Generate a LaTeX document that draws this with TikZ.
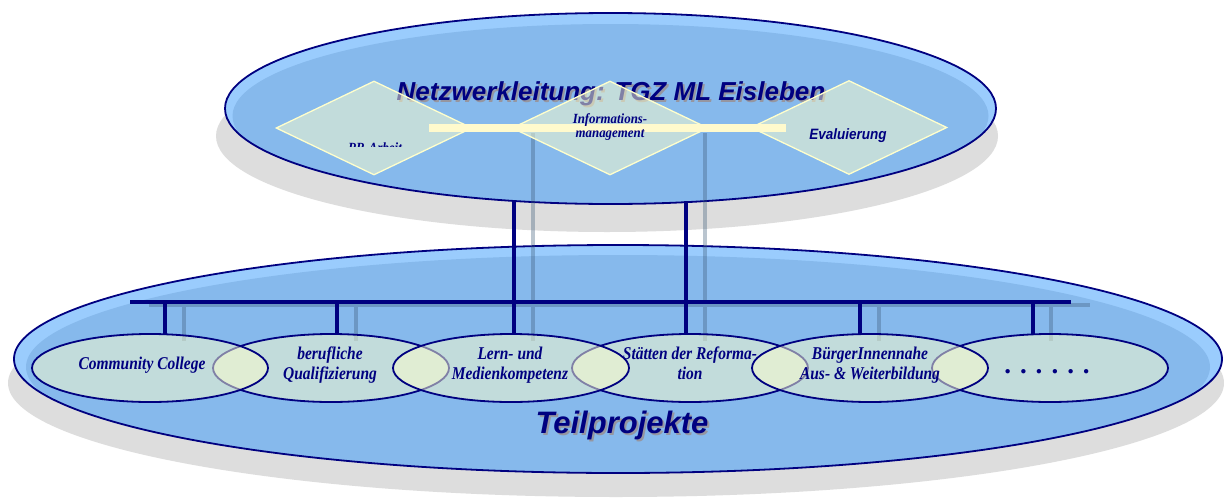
\documentclass[tikz,border=0pt]{standalone}
\usepackage{fontspec}
\setmainfont{Liberation Serif}
\setsansfont{Liberation Sans}
\newfontfamily\condserif[FakeStretch=0.86]{Liberation Serif}
\newfontfamily\condserifb[FakeStretch=0.92]{Liberation Serif}
\newfontfamily\condsans[FakeStretch=0.9]{Liberation Sans}
\usetikzlibrary{shapes.geometric}
\definecolor{navy}{RGB}{0,0,128}
\definecolor{mainblue}{RGB}{134,185,236}
\definecolor{rimblue}{RGB}{154,204,253}
\definecolor{shadowgray}{RGB}{221,221,221}
\definecolor{paleyellow}{RGB}{255,255,204}
\definecolor{baryellow}{RGB}{255,250,205}
\definecolor{lineshadow}{RGB}{60,90,120}
\definecolor{textshadow}{RGB}{150,150,160}
\begin{document}
\begin{tikzpicture}[x=1pt,y=-1pt,
  subproj/.style={ellipse, draw=navy, line width=1.8pt, fill=paleyellow, fill opacity=0.5,
    text opacity=1, minimum width=236pt, minimum height=68pt, inner sep=0pt},
  sublabel/.style={font=\condserif\bfseries\itshape\fontsize{18}{20}\selectfont, text=navy,
    align=center, inner sep=0pt, anchor=base},
  task/.style={diamond, draw=paleyellow, line width=1.3pt, fill=paleyellow, fill opacity=0.5,
    minimum width=196pt, minimum height=94pt, inner sep=0pt},
  navyline/.style={draw=navy, line width=4pt},
  shadowline/.style={draw=lineshadow, draw opacity=0.35, line width=4pt},
  bigtitle/.style={font=\sffamily\bfseries\itshape\fontsize{26}{30}\selectfont, inner sep=0pt, anchor=base},
]
\useasboundingbox (0,0) rectangle (1224,501);
\fill[white] (0,0) rectangle (1224,501);

% ---------- bottom ellipse (Teilprojekte) ----------
\fill[shadowgray] (616,383) ellipse [x radius=608pt, y radius=114pt];
\node[ellipse, minimum width=1208pt, minimum height=228pt, inner sep=0pt, fill=rimblue] (bottom) at (618,359) {};
\begin{scope}
  \clip (618,359) ellipse [x radius=604pt, y radius=114pt];
  \fill[mainblue] (618,367) ellipse [x radius=592pt, y radius=112pt];
\end{scope}
\draw[navy, line width=1.8pt] (618,359) ellipse [x radius=604pt, y radius=114pt];

% ---------- top ellipse (Netzwerkleitung) ----------
\fill[shadowgray] (607,136) ellipse [x radius=391pt, y radius=96pt];
\node[ellipse, minimum width=771pt, minimum height=191pt, inner sep=0pt, fill=rimblue] (top) at (610.5,108.5) {};
\begin{scope}
  \clip (610.5,108.5) ellipse [x radius=385.5pt, y radius=95.5pt];
  \fill[mainblue] (610.5,116) ellipse [x radius=378pt, y radius=92pt];
\end{scope}
\draw[navy, line width=1.8pt] (610.5,108.5) ellipse [x radius=385.5pt, y radius=95.5pt];

\node[bigtitle, text=textshadow] at (613,102) {Netzwerkleitung: TGZ ML Eisleben};
\node[bigtitle, text=navy] (title) at (611,100) {Netzwerkleitung: TGZ ML Eisleben};

% ---------- connector shadows ----------
\path[shadowline] (533,133) -- (533,305) (705,133) -- (705,305)
  (149,305) -- (1090,305)
  (184,305) -- (184,341) (356,305) -- (356,341) (533,305) -- (533,341)
  (705,305) -- (705,341) (879,305) -- (879,341) (1051,305) -- (1051,341);

% ---------- connectors ----------
\coordinate (barL) at (130,302);
\coordinate (barR) at (1071,302);
\coordinate (d1) at (165,302);
\coordinate (d2) at (337,302);
\coordinate (d3) at (514,302);
\coordinate (d4) at (686,302);
\coordinate (d5) at (860,302);
\coordinate (d6) at (1033,302);
\coordinate (t3) at (514,201);
\coordinate (t4) at (686,201);

% ---------- sub-project ellipse positions ----------
\path (150,368) coordinate (c1) (331,368) coordinate (c2) (511,368) coordinate (c3)
      (690,368) coordinate (c4) (870,368) coordinate (c5) (1050,368) coordinate (c6);

\draw[navyline] (barL) -- (barR);
\draw[navyline, line width=3.6pt] (d1) -- (d1 |- 0,335);
\draw[navyline, line width=3.6pt] (d2) -- (d2 |- 0,335);
\draw[navyline, line width=3.6pt] (t3) -- (d3) -- (d3 |- 0,335);
\draw[navyline, line width=3.6pt] (t4) -- (d4) -- (d4 |- 0,335);
\draw[navyline, line width=3.6pt] (d5) -- (d5 |- 0,335);
\draw[navyline, line width=3.6pt] (d6) -- (d6 |- 0,335);

% ---------- diamonds in the top ellipse ----------
\node[task] (pr) at (374,128) {};
\node[task] (info) at (610,128) {};
\node[task] (eval) at (849,127.5) {};
\fill[baryellow] (429,124) rectangle (786,132);
\node[font=\condserifb\bfseries\itshape\fontsize{14}{14}\selectfont, text=navy, align=center, inner sep=0pt, anchor=base]
  (infotext) at (610,137) {Informations-\\management};
\node[font=\condsans\bfseries\itshape\fontsize{15}{16}\selectfont, text=navy, inner sep=0pt, anchor=base]
  (evaltext) at (848,139) {Evaluierung};
\begin{scope}
  \clip (300,100) rectangle (450,146.5);
  \node[font=\condserifb\bfseries\itshape\fontsize{14}{16}\selectfont, text=navy, inner sep=0pt, anchor=base]
    (prtext) at (375,152) {PR-Arbeit};
\end{scope}

% ---------- sub-project ellipses ----------
\node[subproj] (e2) at (c2) {};
\node[sublabel] (l2) at (330,379) {berufliche\\Qualifizierung};
\node[subproj] (e4) at (c4) {};
\node[sublabel] (l4) at (690,379) {Stätten der Reforma-\\tion};
\node[subproj] (e6) at (c6) {};
\node[font=\rmfamily\bfseries\fontsize{27}{27}\selectfont, text=navy, inner sep=0pt, anchor=base]
  (l6) at (1047,373) {. . . . . .};
\node[subproj] (e1) at (c1) {};
\node[sublabel] (l1) at (142,369) {Community College};
\node[subproj] (e3) at (c3) {};
\node[sublabel] (l3) at (510,379) {Lern- und\\Medienkompetenz};
\node[subproj] (e5) at (c5) {};
\node[sublabel] (l5) at (870,379) {BürgerInnennahe\\Aus- \& Weiterbildung};

% ---------- Teilprojekte ----------
\node[bigtitle, font=\sffamily\bfseries\itshape\fontsize{31}{34}\selectfont, text=textshadow] at (624,435) {Teilprojekte};
\node[bigtitle, font=\sffamily\bfseries\itshape\fontsize{31}{34}\selectfont, text=navy] (teil) at (622,433) {Teilprojekte};
\end{tikzpicture}
\end{document}
